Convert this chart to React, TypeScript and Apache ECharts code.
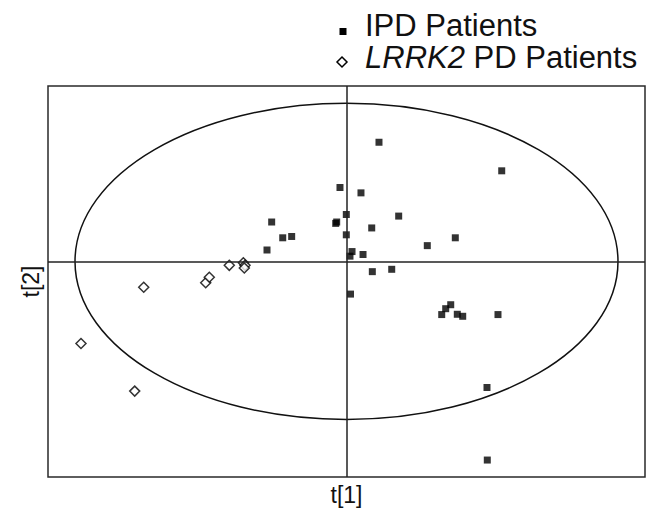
import React, { useEffect, useRef } from "react";
import * as echarts from "echarts";

// t[1], t[2] scores
const ipdX = [0.653, 3.12, -0.131, 0.291, -0.004, 1.049, -0.217, -0.197, 0.507, -0.004, 2.187, 1.624, 0.111, 0.07, 0.332, 0.519, 0.909, 0.08, -1.504, -1.282, -1.102, -1.598, 1.914, 1.994, 2.095, 2.227, 2.336, 3.045, 2.824, 2.83];
const ipdY = [2.432, 1.849, 1.508, 1.399, 0.957, 0.925, 0.776, 0.804, 0.683, 0.543, 0.482, 0.322, 0.201, 0.107, 0.141, -0.209, -0.161, -0.667, 0.804, 0.482, 0.509, 0.233, -1.085, -0.965, -0.884, -1.079, -1.12, -1.085, -2.573, -4.054];
const lrrkX = [-4.076, -2.83, -2.758, -2.356, -2.074, -2.04, -2.054, -5.337, -4.257];
const lrrkY = [-0.527, -0.436, -0.322, -0.08, -0.028, -0.08, -0.135, -1.676, -2.647];
// Hotelling ellipse: centre x, centre y, semi-axis x, semi-axis y
const ellipse = [0, 0, 5.457, 3.226];
const xRange = [-6, 6];
const yRange = [-4.4, 3.58];
const seriesNames = ["IPD Patients", "LRRK2 PD Patients"];

const FONT = "Liberation Sans, Arial, sans-serif";

export default function App() {
  const ref = useRef<HTMLDivElement>(null);
  useEffect(() => {
    document.body.style.margin = "0";
    const chart = echarts.init(ref.current!, null, { renderer: "svg" });
    chart.setOption({
      animation: false,
      backgroundColor: "#fff",
      grid: {
        left: 48,
        right: 11,
        top: 86,
        bottom: 28,
        show: true,
        borderColor: "#2a2a2a",
        borderWidth: 1.5,
        backgroundColor: "transparent",
      },
      legend: [
        {
          data: [{ name: seriesNames[0], itemStyle: { opacity: 0 } }],
          left: 339,
          top: 10,
          padding: 0,
          itemWidth: 7,
          itemHeight: 7,
          itemGap: 0,
          textStyle: { fontFamily: FONT, fontSize: 31, lineHeight: 26, color: "#111", padding: [0, 0, 0, 14] },
          selectedMode: false,
        },
        {
          data: [{ name: seriesNames[1], itemStyle: { opacity: 0 } }],
          left: 337,
          top: 42,
          padding: 0,
          itemWidth: 10,
          itemHeight: 10,
          itemGap: 0,
          formatter: () => "{i|LRRK2} PD Patients",
          textStyle: {
            fontFamily: FONT,
            fontSize: 31,
            lineHeight: 26,
            color: "#111",
            padding: [0, 0, 0, 12],
            rich: { i: { fontStyle: "italic", fontFamily: FONT, fontSize: 31, lineHeight: 26, color: "#111" } },
          },
          selectedMode: false,
        },
      ],
      graphic: [
        { type: "rect", shape: { x: 339.5, y: 28, width: 7, height: 7 }, style: { fill: "#000" } },
        {
          type: "polygon",
          shape: { points: [[342, 57], [347, 62], [342, 67], [337, 62]] },
          style: { fill: "#fff", stroke: "#000", lineWidth: 1.5 },
        },
      ],
      xAxis: {
        type: "value",
        min: xRange[0],
        max: xRange[1],
        axisLine: { show: false },
        axisTick: { show: false },
        axisLabel: { show: false },
        splitLine: { show: false },
        name: "t[1]",
        nameLocation: "middle",
        nameGap: 6,
        nameTextStyle: { fontFamily: FONT, fontSize: 23, color: "#111", verticalAlign: "top" },
      },
      yAxis: {
        type: "value",
        min: yRange[0],
        max: yRange[1],
        axisLine: { show: false },
        axisTick: { show: false },
        axisLabel: { show: false },
        splitLine: { show: false },
        name: "t[2]",
        nameLocation: "middle",
        nameGap: 6,
        nameTextStyle: { fontFamily: FONT, fontSize: 23, color: "#111" },
      },
      series: [
        {
          type: "custom",
          name: "ellipse",
          silent: true,
          data: [ellipse],
          renderItem: (params: any, api: any) => {
            const c = api.coord([api.value(0), api.value(1)]);
            const e = api.coord([api.value(0) + api.value(2), api.value(1) + api.value(3)]);
            return {
              type: "ellipse",
              shape: { cx: c[0], cy: c[1], rx: Math.abs(e[0] - c[0]), ry: Math.abs(e[1] - c[1]) },
              style: { fill: "none", stroke: "#111", lineWidth: 1.5 },
            };
          },
          z: 1,
        },
        {
          type: "scatter",
          name: seriesNames[0],
          symbol: "rect",
          symbolSize: 7,
          itemStyle: { color: "#000" },
          data: ipdX.map((x, i) => [x, ipdY[i]]),
          z: 3,
          markLine: {
            silent: true,
            symbol: ["none", "none"],
            label: { show: false },
            lineStyle: { color: "#222", width: 1.5, type: "solid" },
            data: [{ xAxis: 0 }, { yAxis: 0 }],
          },
        },
        {
          type: "scatter",
          name: seriesNames[1],
          symbol: "diamond",
          symbolSize: 10,
          itemStyle: { color: "#fff", borderColor: "#000", borderWidth: 1.5 },
          data: lrrkX.map((x, i) => [x, lrrkY[i]]),
          z: 4,
        },
      ],
    });
    return () => chart.dispose();
  }, []);
  return <div ref={ref} style={{ width: 656, height: 511, position: "absolute", left: 0, top: 0 }} />;
}
